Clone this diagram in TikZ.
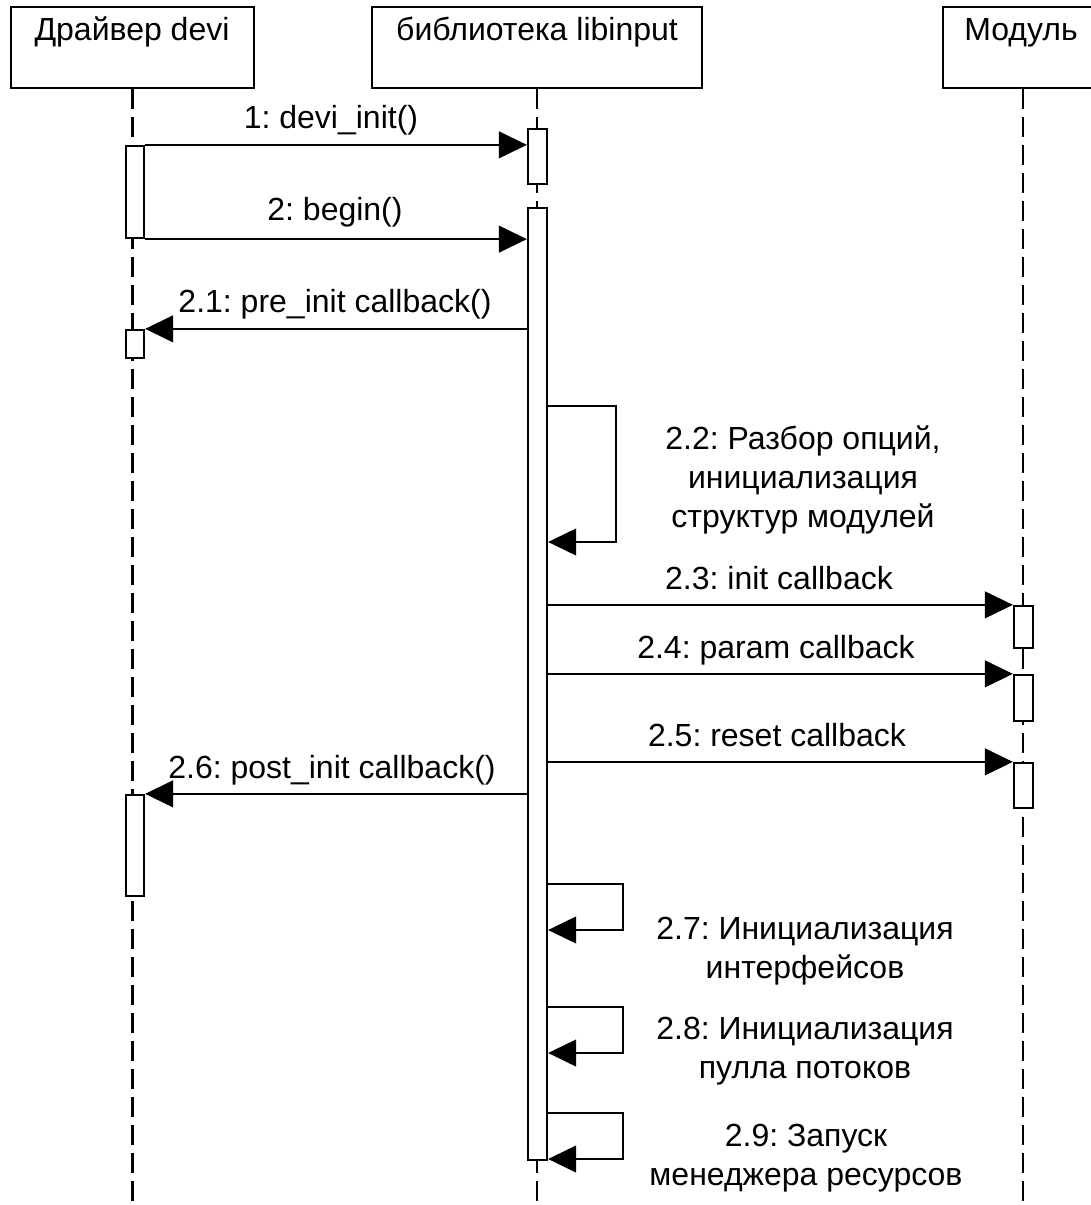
\documentclass[tikz,border=0pt]{standalone}
\usepackage{fontspec}
\setmainfont{Liberation Sans}
\usetikzlibrary{arrows.meta,fit}
\frenchspacing
\begin{document}
\begin{tikzpicture}[x=0.75pt,y=-0.75pt,
  every node/.style={font=\fontsize{24}{29}\selectfont},
  hbox/.style={draw, line width=1.7pt, inner sep=0pt},
  act/.style={draw, fill=white, line width=1.7pt, inner sep=0pt},
  life/.style={line width=1.7pt, dash pattern=on 15pt off 6pt},
  msg/.style={line width=1.7pt, -{Triangle[length=21pt,width=20pt]}},
  lbl/.style={anchor=base, align=center, inner sep=0pt},
]
\useasboundingbox (0,0) rectangle (1090,1205);
\fill[white] (0,0) rectangle (1090,1205);
\coordinate (bottom) at (0,1210);

% header boxes
\node[hbox, fit={(11,7)(254,88)}] (drv) {};
\node[hbox, fit={(372,7)(702,88)}] (lib) {};
\node[hbox, fit={(943,7)(1103,88)}] (mod) {};
\node[lbl] (drvt) at (132,41) {Драйвер devi};
\node[lbl] (libt) at (537,41) {библиотека libinput};
\node[lbl] (modt) at (1021,41) {Модуль};

% lifelines
\draw[life] (drv.south) -- (drv.south |- bottom);
\draw[life] (lib.south) -- (lib.south |- bottom);
\draw[life] (mod.south) -- (mod.south |- bottom);

% activations
\node[act, fit={(126,146)(144,238)}] (da1) {};
\node[act, fit={(126,330)(144,358)}] (da2) {};
\node[act, fit={(126,795)(144,896)}] (da3) {};
\node[act, fit={(528,129)(547,184)}] (la1) {};
\node[act, fit={(528,208)(547,1160)}] (la2) {};
\node[act, fit={(1014,606)(1033,648)}] (ma1) {};
\node[act, fit={(1014,675)(1033,721)}] (ma2) {};
\node[act, fit={(1014,763)(1033,808)}] (ma3) {};

% self-call corner points
\coordinate (s22) at (616,406);
\coordinate (e22) at (616,542);
\coordinate (s27) at (623,884);
\coordinate (e27) at (623,930);
\coordinate (s28) at (623,1007);
\coordinate (e28) at (623,1053);
\coordinate (s29) at (623,1113);
\coordinate (e29) at (623,1159);

% messages
\draw[msg] (da1.north east) -- (da1.north east -| la1.west);
\draw[msg] (da1.south east) -- (da1.south east -| la2.west);
\draw[msg] (la2.west |- da2.north) -- (da2.north east);
\draw[msg] (la2.east |- s22) -- (s22) -- (e22) -- (la2.east |- e22);
\draw[msg] (la2.east |- ma1.north) -- (ma1.north west);
\draw[msg] (la2.east |- ma2.north) -- (ma2.north west);
\draw[msg] (la2.east |- ma3.north) -- (ma3.north west);
\draw[msg] (la2.west |- da3.north) -- (da3.north east);
\draw[msg] (la2.east |- s27) -- (s27) -- (e27) -- (la2.east |- e27);
\draw[msg] (la2.east |- s28) -- (s28) -- (e28) -- (la2.east |- e28);
\draw[msg] (la2.east |- s29) -- (s29) -- (e29) -- (la2.east |- e29);

% labels
\node[lbl] (l1) at (331,129) {1: devi\_init()};
\node[lbl] (l2) at (335,221) {2: begin()};
\node[lbl] (l21) at (335,313) {2.1: pre\_init callback()};
\node[lbl] (l22) at (803,527) {2.2: Разбор опций,\\инициализация\\структур модулей};
\node[lbl] (l23) at (779,589) {2.3: init callback};
\node[lbl] (l24) at (776,658) {2.4: param callback};
\node[lbl] (l25) at (777,746) {2.5: reset callback};
\node[lbl] (l26) at (332,778) {2.6: post\_init callback()};
\node[lbl] (l27) at (805,978) {2.7: Инициализация\\интерфейсов};
\node[lbl] (l28) at (805,1078) {2.8: Инициализация\\пулла потоков};
\node[lbl] (l29) at (806,1185) {2.9: Запуск\\менеджера ресурсов};
\end{tikzpicture}
\end{document}
